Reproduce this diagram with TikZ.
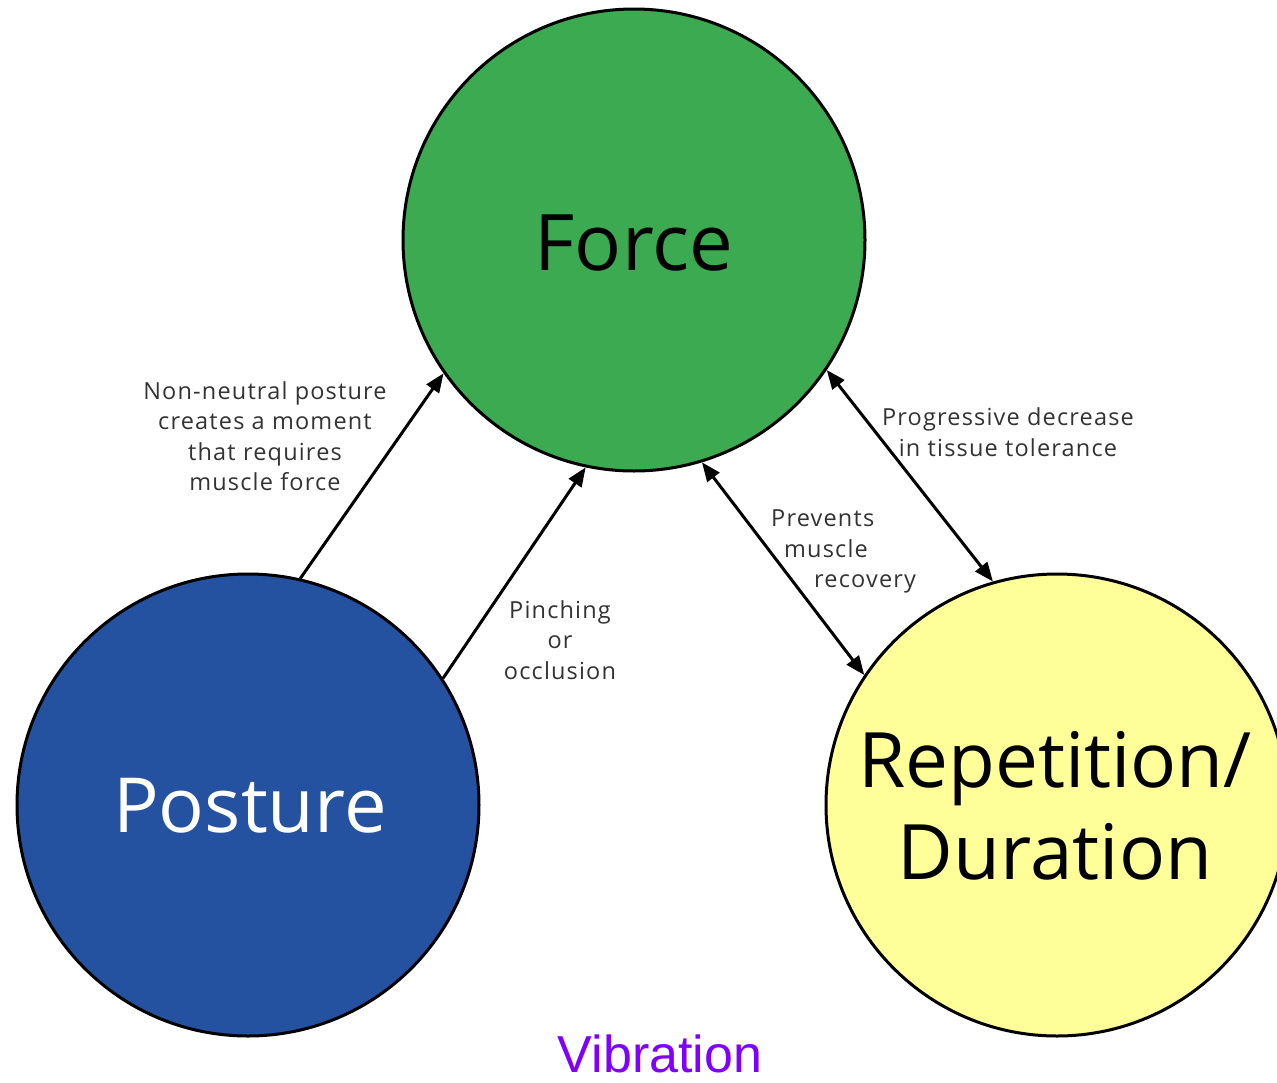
\documentclass[tikz,border=0pt]{standalone}
\usepackage{fontspec}
\setmainfont{Open Sans}[Ligatures=NoCommon]
\newfontfamily\labelfont{Open Sans}[LetterSpace=5]
\newfontfamily\vibfont{Liberation Sans}
\usetikzlibrary{arrows.meta}
\definecolor{forcegreen}{HTML}{3BAA50}
\definecolor{postureblue}{HTML}{2452A0}
\definecolor{repyellow}{HTML}{FFFF99}
\definecolor{labelgray}{HTML}{333333}
\definecolor{vibpurple}{HTML}{8000FF}
\tikzset{
  bigcircle/.style={circle, draw=black, line width=3pt, minimum size=462pt, inner sep=0pt},
  bigtext/.style={font=\fontsize{78}{90}\selectfont, align=center},
  smalltext/.style={font=\labelfont\fontsize{23.5}{30.5}\selectfont, text=labelgray, align=center},
  conn/.style={line width=3pt, -{Triangle[length=19pt,width=15pt]}},
  dconn/.style={line width=3pt, {Triangle[length=19pt,width=15pt]}-{Triangle[length=19pt,width=15pt]}}
}
\begin{document}
\begin{tikzpicture}[x=1pt,y=-1pt]
\useasboundingbox (0,0) rectangle (1277,1082);
\fill[white] (0,0) rectangle (1277,1082);
\node[bigcircle, fill=forcegreen] (force) at (634,240) {};
\node[bigcircle, fill=postureblue] (posture) at (248,805) {};
\node[bigcircle, fill=repyellow] (rep) at (1057,805) {};
\node[bigtext, text=black] (forcet) at (634,243) {Force};
\node[bigtext, text=white, font=\fontsize{76}{90}\selectfont] (posturet) at (250,806) {Posture};
\node[bigtext, text=black, font=\fontsize{76.5}{92}\selectfont] (rept) at (1055,806) {Repetition/\\Duration};
\draw[conn] (posture.77) -- (force.215);
\draw[conn] (posture.33) -- (force.258);
\draw[dconn] (force.287) -- (rep.146);
\draw[dconn] (force.326) -- (rep.106);
\node[smalltext] (l1) at (265,436) {Non-neutral posture\\creates a moment\\that requires\\muscle force};
\node[smalltext] (l2) at (560,640) {Pinching\\or\\occlusion};
\node[smalltext, align=left, anchor=north west, inner sep=0pt] (l3) at (771,510) {Prevents\\\hspace*{13pt}muscle\\\hspace*{43pt}recovery};
\node[smalltext] (l4) at (1008,432) {Progressive decrease\\in tissue tolerance};
\node[font=\vibfont\fontsize{52}{60}\selectfont, text=vibpurple] (vib) at (660,1054) {Vibration};
\end{tikzpicture}
\end{document}
